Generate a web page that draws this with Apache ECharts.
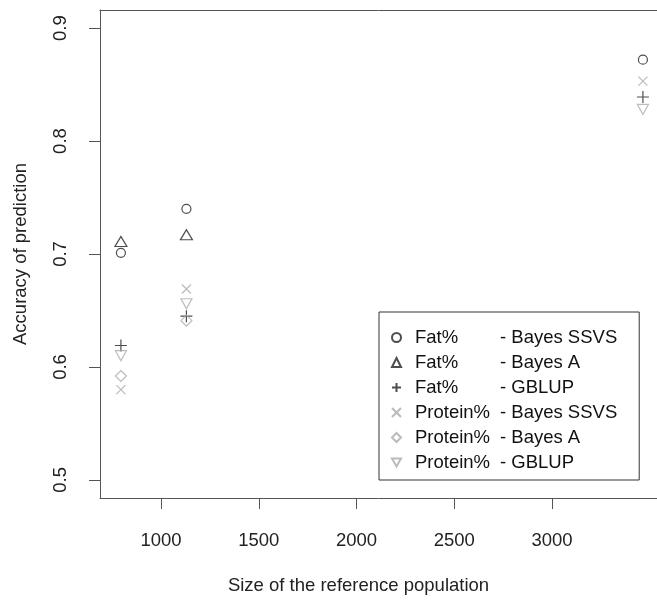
<!DOCTYPE html>
<html>
  <head>
    <meta charset="utf-8" />
    <title>Accuracy of prediction</title>
    <script src="https://cdn.jsdelivr.net/npm/echarts/dist/echarts.min.js"></script>
  </head>
  <body style="margin: 0">
    <div id="main" style="width: 657px; height: 600px"></div>
    <script type="text/javascript">
      var myChart = echarts.init(document.getElementById('main'));

      // reference population sizes
      var refSizes = [795, 1130, 3465];
      var traits = ['Fat%', 'Fat%', 'Fat%', 'Protein%', 'Protein%', 'Protein%'];
      var methods = ['Bayes SSVS', 'Bayes A', 'GBLUP', 'Bayes SSVS', 'Bayes A', 'GBLUP'];

      // accuracies, one array per series
      var fatSSVS = [0.701, 0.74, 0.872];
      var fatBayesA = [0.711, 0.717, null];
      var fatGBLUP = [0.619, 0.645, 0.839];
      var protSSVS = [0.58, 0.669, 0.853];
      var protBayesA = [0.592, 0.641, null];
      var protGBLUP = [0.61, 0.656, 0.828];

      var xTicks = [1000, 1500, 2000, 2500, 3000];
      var yTicks = [0.5, 0.6, 0.7, 0.8, 0.9];

      var values = [fatSSVS, fatBayesA, fatGBLUP, protSSVS, protBayesA, protGBLUP];
      var symbols = [
        'circle',
        'triangle',
        'path://M0,5L10,5M5,0L5,10',
        'path://M0,0L10,10M10,0L0,10',
        'diamond',
        'path://M0,0L10,0L5,9Z',
      ];
      var sizes = [9, [12, 10], 12, 9, 11, [11, 10]];
      var colors = ['#222', '#222', '#222', '#aaa', '#aaa', '#aaa'];

      var series = values.map(function (vals, k) {
        return {
          name: traits[k] + ' - ' + methods[k],
          type: 'scatter',
          symbol: symbols[k],
          symbolSize: sizes[k],
          itemStyle: {
            color: 'rgba(0,0,0,0)',
            borderColor: colors[k],
            borderWidth: 1.2,
          },
          data: refSizes.map(function (x, i) {
            return vals[i] == null ? null : [x, vals[i]];
          }).filter(function (d) { return d; }),
        };
      });

      var font = 'Liberation Sans, Arial, sans-serif';
      var fs = 18.5;
      var boxLine = { show: true, lineStyle: { color: '#555', width: 1 } };

      var option = {
        animation: false,
        textStyle: { fontFamily: font },
        grid: {
          left: 100,
          right: 0,
          top: 10,
          bottom: 100,
        },
        legend: {
          orient: 'vertical',
          left: 379,
          top: 312,
          padding: [16, 22, 8, 12],
          itemWidth: 9,
          itemHeight: 9,
          itemGap: 6,
          borderColor: '#333',
          borderWidth: 1,
          borderRadius: 0,
          backgroundColor: '#fff',
          selectedMode: false,
          formatter: function (name) {
            var k = series.findIndex(function (s) { return s.name === name; });
            return '{a|' + traits[k] + '}{b|- ' + methods[k] + '}';
          },
          textStyle: {
            color: '#111',
            fontSize: fs,
            rich: {
              a: { width: 85, padding: [0, 0, 0, 9], fontSize: fs, color: '#111' },
              b: { width: 123, fontSize: fs, color: '#111' },
            },
          },
        },
        xAxis: [
          {
            type: 'value',
            min: 688,
            max: 3537,
            name: 'Size of the reference population',
            nameLocation: 'middle',
            nameGap: 78,
            nameTextStyle: { fontSize: fs, color: '#222', padding: [0, 40, 0, 0] },
            axisLine: boxLine,
            splitLine: { show: false },
            axisTick: {
              show: true,
              length: 11,
              customValues: xTicks,
              lineStyle: { color: '#555' },
            },
            axisLabel: {
              customValues: xTicks,
              margin: 33,
              fontSize: fs,
              color: '#222',
              formatter: function (v) { return String(v); },
            },
          },
          {
            type: 'value',
            position: 'top',
            min: 688,
            max: 3537,
            axisLine: boxLine,
            axisTick: { show: false },
            axisLabel: { show: false },
            splitLine: { show: false },
          },
        ],
        yAxis: {
          type: 'value',
          min: 0.484,
          max: 0.916,
          name: 'Accuracy of prediction',
          nameLocation: 'middle',
          nameGap: 70,
          nameTextStyle: { fontSize: fs, color: '#222' },
          axisLine: boxLine,
          splitLine: { show: false },
          axisTick: {
            show: true,
            length: 11,
            customValues: yTicks,
            lineStyle: { color: '#555' },
          },
          axisLabel: {
            customValues: yTicks,
            rotate: 90,
            margin: 29.5,
            fontSize: fs,
            color: '#222',
            formatter: function (v) { return v.toFixed(1); },
          },
        },
        series: series,
      };

      myChart.setOption(option);
    </script>
  </body>
</html>
